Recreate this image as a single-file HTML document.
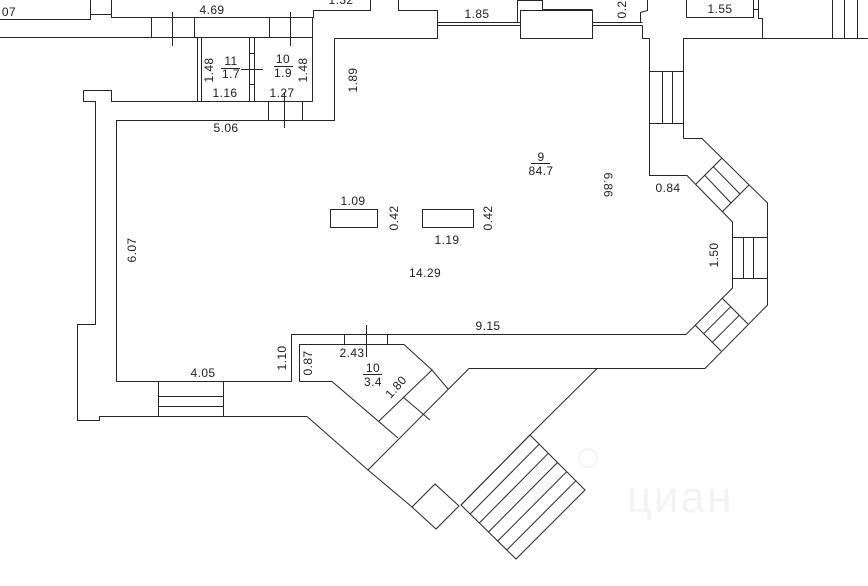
<!DOCTYPE html>
<html>
<head>
<meta charset="utf-8">
<style>
html,body{margin:0;padding:0;background:#fff;}
svg{display:block;}
text{font-family:"Liberation Sans","DejaVu Sans",sans-serif;font-size:12px;fill:#1e1e1e;letter-spacing:0.4px;}
</style>
</head>
<body>
<svg width="868" height="586" viewBox="0 0 868 586" xmlns="http://www.w3.org/2000/svg">
<rect x="0" y="0" width="868" height="586" fill="#fff"/>
<!-- faint watermark -->
<g opacity="0.045">
<circle cx="588" cy="458" r="9" fill="none" stroke="#000" stroke-width="2"/>
<text x="680" y="512" text-anchor="middle" style="font-size:44px;letter-spacing:2px;fill:#000">циан</text>
</g>
<g fill="none" stroke="#262626" stroke-width="1">
<!-- top-left -->
<polyline points="0,19.5 90.5,19.5 90.5,0"/>
<polyline points="90.5,14.5 111.5,14.5"/>
<polyline points="111.5,0 111.5,17.5 313.5,17.5 313.5,10.5 370.5,10.5 370.5,0"/>
<polyline points="0,37.5 312.5,37.5"/>
<polyline points="312.5,17.5 312.5,101.5"/>
<line x1="151.5" y1="17.5" x2="151.5" y2="37.5"/>
<line x1="194.5" y1="17.5" x2="194.5" y2="37.5"/>
<line x1="269.5" y1="17.5" x2="269.5" y2="37.5"/>
<line x1="172.5" y1="12" x2="172.5" y2="46"/>
<line x1="290.5" y1="12" x2="290.5" y2="46"/>
<line x1="197.5" y1="37.5" x2="197.5" y2="101.5"/>
<line x1="201.5" y1="37.5" x2="201.5" y2="101.5"/>
<line x1="249.5" y1="37.5" x2="249.5" y2="101.5"/>
<line x1="254.5" y1="37.5" x2="254.5" y2="101.5"/>
<line x1="249.5" y1="53.5" x2="254.5" y2="53.5"/>
<line x1="249.5" y1="84.5" x2="254.5" y2="84.5"/>
<line x1="241" y1="69.5" x2="263" y2="69.5"/>
<polyline points="83.5,90.5 111.5,90.5 111.5,101.5 312.5,101.5"/>
<polyline points="83.5,90.5 83.5,101.5 95.5,101.5 95.5,324.5 77.5,324.5 77.5,420.5 99.5,420.5 99.5,416.5 307,416.5 368,470 412,507"/>
<line x1="268.5" y1="101.5" x2="268.5" y2="120.5"/>
<line x1="302.5" y1="101.5" x2="302.5" y2="120.5"/>
<line x1="284.5" y1="92" x2="284.5" y2="128"/>
<!-- main hall inner wall -->
<polyline points="398.5,0 398.5,10.5 437.5,10.5 437.5,38.5 334.5,38.5 334.5,120.5 116.5,120.5 116.5,381.5 291.5,381.5 291.5,334.5 686,334.5 732.5,288 732.5,222 687,175.5 649.5,175.5 649.5,38.5 642.5,38.5 642.5,25.5"/>
<line x1="437.5" y1="22.5" x2="520.5" y2="22.5"/>
<line x1="437.5" y1="25.5" x2="520.5" y2="25.5"/>
<line x1="592.5" y1="22.5" x2="642.5" y2="22.5"/>
<line x1="592.5" y1="25.5" x2="642.5" y2="25.5"/>
<rect x="520.5" y="10.5" width="72" height="28"/>
<polyline points="517.5,22.5 517.5,0.5 542.5,0.5 542.5,9.5 592.5,9.5"/>
<polyline points="647.5,0 647.5,10.5 640.5,12.5 640.5,22.5"/>
<!-- furniture rects -->
<rect x="330.5" y="209.5" width="47" height="18"/>
<rect x="422.5" y="209.5" width="51" height="18"/>
<!-- top right -->
<polyline points="683.5,138.5 683.5,38.5 868,38.5"/>
<polyline points="686.5,0 686.5,17.5 753.5,17.5 753.5,0"/>
<polyline points="753.5,9.5 758.5,9.5"/>
<polyline points="758.5,0 758.5,18.5 762.5,18.5 762.5,38.5"/>
<line x1="832.5" y1="0" x2="832.5" y2="38.5"/>
<line x1="844.5" y1="0" x2="844.5" y2="38.5"/>
<line x1="857.5" y1="0" x2="857.5" y2="38.5"/>
<!-- top stair -->
<line x1="649.5" y1="71.5" x2="683.5" y2="71.5"/>
<line x1="649.5" y1="123.5" x2="683.5" y2="123.5"/>
<line x1="662.5" y1="71.5" x2="662.5" y2="123.5"/>
<line x1="672.5" y1="71.5" x2="672.5" y2="123.5"/>
<!-- outer right wall -->
<polyline points="683.5,138.5 702,138.5 767.5,203 767.5,305 705,368.5 469,368.5 368,470"/>
<polyline points="597,368.5 530,435 461,505"/>
<!-- upper diag stair -->
<line x1="696" y1="184" x2="722" y2="158"/>
<line x1="722" y1="212" x2="749" y2="185"/>
<line x1="704.7" y1="175.3" x2="731" y2="203"/>
<line x1="713.3" y1="166.7" x2="740" y2="194"/>
<!-- right vertical stair -->
<line x1="732.5" y1="237.5" x2="767.5" y2="237.5"/>
<line x1="732.5" y1="278.5" x2="767.5" y2="278.5"/>
<line x1="743.5" y1="237.5" x2="743.5" y2="278.5"/>
<line x1="753.5" y1="237.5" x2="753.5" y2="278.5"/>
<!-- lower diag stair -->
<line x1="722" y1="298" x2="748" y2="324"/>
<line x1="695" y1="325" x2="721" y2="351"/>
<line x1="730.7" y1="306.7" x2="703.7" y2="333.7"/>
<line x1="739.3" y1="315.3" x2="712.3" y2="342.3"/>
<!-- left stair -->
<line x1="158.5" y1="381.5" x2="158.5" y2="416.5"/>
<line x1="223.5" y1="381.5" x2="223.5" y2="416.5"/>
<line x1="158.5" y1="396.5" x2="223.5" y2="396.5"/>
<line x1="158.5" y1="406.5" x2="223.5" y2="406.5"/>
<!-- room 10 bottom -->
<polyline points="299.5,381.5 299.5,344.5 404,344.5 432,370 448,389"/>
<polyline points="299.5,381.5 332,381.5 398,438"/>
<line x1="344.5" y1="334.5" x2="344.5" y2="344.5"/>
<line x1="387.5" y1="334.5" x2="387.5" y2="344.5"/>
<line x1="432" y1="370" x2="379" y2="421"/>
<line x1="403" y1="397" x2="430" y2="420"/>
<line x1="366.5" y1="325" x2="366.5" y2="357"/>
<!-- vestibule -->
<polygon points="412,507 435,484 459,506 436,529"/>
<polygon points="530,435 585,490 516,559 461,505"/>
<line x1="539.2" y1="444.2" x2="470.2" y2="514"/>
<line x1="548.3" y1="453.3" x2="479.3" y2="523"/>
<line x1="557.5" y1="462.5" x2="488.5" y2="532"/>
<line x1="566.7" y1="471.7" x2="497.7" y2="541"/>
<line x1="575.8" y1="480.8" x2="506.8" y2="550"/>
<!-- fraction bars -->
<line x1="221" y1="68.5" x2="240" y2="68.5"/>
<line x1="274" y1="66.5" x2="293" y2="66.5"/>
<line x1="531" y1="163.5" x2="550" y2="163.5"/>
<line x1="363" y1="374.5" x2="382" y2="374.5"/>
</g>
<!-- labels -->
<g text-anchor="middle">
<text x="9" y="16">07</text>
<text x="212" y="14">4.69</text>
<text x="341" y="4">1.32</text>
<text x="477" y="18">1.85</text>
<text x="622" y="10" transform="rotate(-90 622 6)">0.20</text>
<text x="720" y="13">1.55</text>
<text x="209" y="74" transform="rotate(-90 209 70)">1.48</text>
<text x="231" y="65">11</text>
<text x="231" y="78">1.7</text>
<text x="283" y="63">10</text>
<text x="283" y="77">1.9</text>
<text x="303" y="74" transform="rotate(-90 303 70)">1.48</text>
<text x="225" y="97">1.16</text>
<text x="282" y="97">1.27</text>
<text x="353" y="84" transform="rotate(-90 353 80)">1.89</text>
<text x="226" y="132">5.06</text>
<text x="541" y="161">9</text>
<text x="541" y="175">84.7</text>
<text x="608" y="189" transform="rotate(90 608 185)">6.86</text>
<text x="668" y="192">0.84</text>
<text x="714" y="259" transform="rotate(-90 714 255)">1.50</text>
<text x="353" y="205">1.09</text>
<text x="394" y="222" transform="rotate(-90 394 218)">0.42</text>
<text x="447" y="244">1.19</text>
<text x="488" y="222" transform="rotate(-90 488 218)">0.42</text>
<text x="425" y="277">14.29</text>
<text x="132" y="254" transform="rotate(-90 132 250)">6.07</text>
<text x="488" y="330">9.15</text>
<text x="282" y="362" transform="rotate(-90 282 358)">1.10</text>
<text x="308" y="367" transform="rotate(-90 308 363)">0.87</text>
<text x="352" y="357">2.43</text>
<text x="373" y="372">10</text>
<text x="373" y="386">3.4</text>
<text x="396" y="391" transform="rotate(-48 396 387)">1.80</text>
<text x="203" y="377">4.05</text>
</g>
</svg>
</body>
</html>
